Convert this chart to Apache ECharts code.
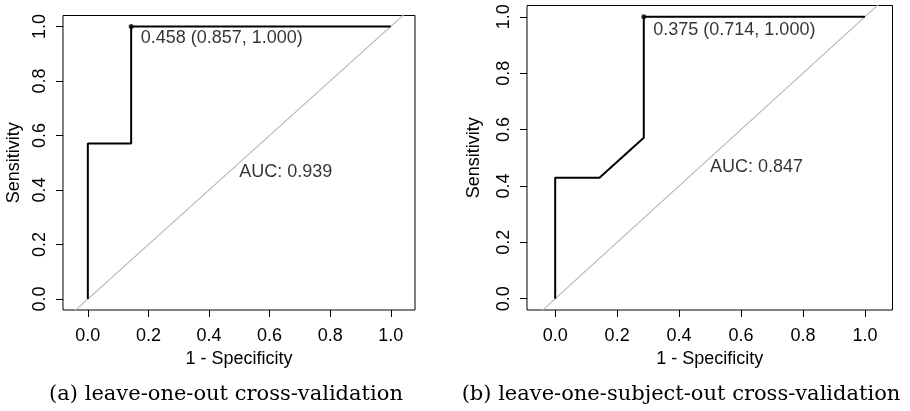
<!DOCTYPE html>
<html>
<head>
<meta charset="utf-8">
<script src="https://cdn.jsdelivr.net/npm/echarts@6/dist/echarts.min.js"></script>
<style>
  html, body { margin: 0; padding: 0; background: #fff; }
  #chart { width: 910px; height: 411px; }
</style>
</head>
<body>
<div id="chart"></div>
<script>
// tick values shared by both panels
const ticks = [0, 0.2, 0.4, 0.6, 0.8, 1.0];

// (a) leave-one-out: 1 - specificity / sensitivity
const fprA = [0, 0, 0.143, 0.143, 1];
const tprA = [0, 0.571, 0.571, 1, 1];
const bestA = [0.458, 0.857, 1.000]; // threshold, specificity, sensitivity
const aucA = 0.939;

// (b) leave-one-subject-out
const fprB = [0, 0, 0.143, 0.286, 0.286, 1];
const tprB = [0, 0.429, 0.429, 0.571, 1, 1];
const bestB = [0.375, 0.714, 1.000];
const aucB = 0.847;

const captions = ['(a) leave-one-out cross-validation', '(b) leave-one-subject-out cross-validation'];

const sans = 'Liberation Sans';
const serif = 'DejaVu Serif';

function pairs(xs, ys) {
  return xs.map((x, i) => [x, ys[i]]);
}

function xAxisFor(idx, min, max) {
  return {
    type: 'value', gridIndex: idx, min: min, max: max,
    name: '1 - Specificity', nameLocation: 'middle', nameGap: 37,
    nameTextStyle: { fontFamily: sans, fontSize: 18, color: '#000' },
    axisLine: { show: false, onZero: false },
    axisTick: { show: true, length: 7, customValues: ticks, lineStyle: { color: '#000' } },
    axisLabel: {
      customValues: ticks, margin: 17, formatter: v => v.toFixed(1),
      fontFamily: sans, fontSize: 18, color: '#000'
    },
    splitLine: { show: false }
  };
}

function yAxisFor(idx, gap) {
  return {
    type: 'value', gridIndex: idx, min: -0.04, max: 1.04,
    name: 'Sensitivity', nameLocation: 'middle', nameGap: gap, nameRotate: 90,
    nameTextStyle: { fontFamily: sans, fontSize: 18, color: '#000' },
    axisLine: { show: false, onZero: false },
    axisTick: { show: true, length: 7, customValues: ticks, lineStyle: { color: '#000' } },
    axisLabel: {
      customValues: ticks, margin: 14, rotate: 90, formatter: v => v.toFixed(1),
      fontFamily: sans, fontSize: 18, color: '#000'
    },
    splitLine: { show: false }
  };
}

function seriesFor(idx, fpr, tpr, best, auc, labelPos) {
  return [
    {
      type: 'line', xAxisIndex: idx, yAxisIndex: idx, silent: true,
      data: [[-0.2, -0.2], [1.2, 1.2]], symbol: 'none',
      lineStyle: { color: '#b8b8b8', width: 1.1 }
    },
    {
      type: 'line', xAxisIndex: idx, yAxisIndex: idx, silent: true,
      data: pairs(fpr, tpr), symbol: 'none',
      lineStyle: { color: '#000', width: 2 }
    },
    {
      type: 'scatter', xAxisIndex: idx, yAxisIndex: idx, silent: true,
      data: [[1 - best[1], best[2]]], symbolSize: 5,
      itemStyle: { color: '#000' },
      label: {
        show: true, position: labelPos, align: 'left', verticalAlign: 'middle',
        formatter: () => best[0].toFixed(3) + ' (' + best[1].toFixed(3) + ', ' + best[2].toFixed(3) + ')',
        fontFamily: sans, fontSize: 18, color: '#000'
      }
    },
    {
      type: 'scatter', xAxisIndex: idx, yAxisIndex: idx, silent: true,
      data: [[0.5, 0.5]], symbolSize: 0,
      label: {
        show: true, position: [0, 0], align: 'left', verticalAlign: 'top',
        formatter: () => 'AUC: ' + auc.toFixed(3),
        fontFamily: sans, fontSize: 18, color: '#000'
      }
    }
  ];
}

const chart = echarts.init(document.getElementById('chart'), null, { renderer: 'canvas' });
chart.setOption({
  animation: false,
  backgroundColor: '#fff',
  grid: [
    { left: 63, top: 15.5, width: 352, height: 294.5, show: true, borderColor: '#000', borderWidth: 1, backgroundColor: 'transparent' },
    { left: 527, top: 5.5, width: 365.5, height: 304.5, show: true, borderColor: '#000', borderWidth: 1, backgroundColor: 'transparent' }
  ],
  xAxis: [xAxisFor(0, -0.082, 1.080), xAxisFor(1, -0.091, 1.089)],
  yAxis: [yAxisFor(0, 40), yAxisFor(1, 44)],
  series: [].concat(
    seriesFor(0, fprA, tprA, bestA, aucA, [12, 14]),
    seriesFor(1, fprB, tprB, bestB, aucB, [12, 16])
  ),
  graphic: [
    {
      type: 'text', x: 226, y: 395, silent: true,
      style: { text: captions[0], fontFamily: serif, fontSize: 21, fill: '#000', align: 'center', verticalAlign: 'middle' }
    },
    {
      type: 'text', x: 681, y: 395, silent: true,
      style: { text: captions[1], fontFamily: serif, fontSize: 21, fill: '#000', align: 'center', verticalAlign: 'middle' }
    }
  ]
});
</script>
</body>
</html>
